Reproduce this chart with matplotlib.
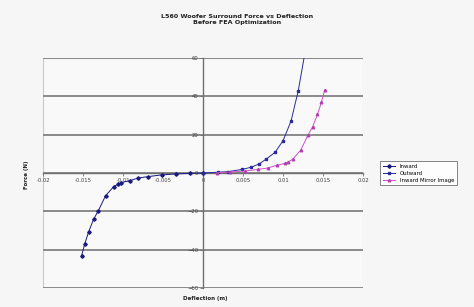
import matplotlib
matplotlib.use("Agg")
import matplotlib.pyplot as plt
from matplotlib.patches import Rectangle

# Data
inward_x = [-0.0152, -0.0148, -0.0143, -0.0137, -0.0131, -0.0122, -0.0112, -0.0106,
            -0.0103, -0.0092, -0.0081, -0.0069, -0.0052, -0.0034, -0.0017, 0.0]
inward_y = [-43.3, -37.0, -30.6, -24.2, -19.7, -11.9, -7.2, -5.7,
            -5.1, -4.0, -2.6, -1.9, -1.0, -0.5, -0.2, 0.0]

outward_x = [0.0, 0.0019, 0.0031, 0.0049, 0.0060, 0.0070, 0.0079, 0.0090,
             0.0100, 0.0110, 0.0119, 0.0127]
outward_y = [0.0, 0.4, 0.7, 1.9, 3.0, 4.7, 7.3, 10.8, 16.9, 27.2, 43.0, 62.0]

mirror_x = [0.0017, 0.0034, 0.0052, 0.0069, 0.0081, 0.0092, 0.0103, 0.0106,
            0.0112, 0.0122, 0.0131, 0.0137, 0.0143, 0.0148, 0.0152]
mirror_y = [0.2, 0.5, 1.0, 1.9, 2.6, 4.0, 5.1, 5.7,
            7.2, 11.9, 19.7, 24.2, 30.6, 37.0, 43.3]

x_ticks = [-0.02, -0.015, -0.01, -0.005, 0, 0.005, 0.01, 0.015, 0.02]
x_ticklabels = ["-0.02", "-0.015", "-0.01", "-0.005", "0", "0.005", "0.01", "0.015", "0.02"]
y_ticks = [-60, -40, -20, 0, 20, 40, 60]

title = "L560 Woofer Surround Force vs Deflection\nBefore FEA Optimization"

fig = plt.figure(figsize=(4.74, 3.07), dpi=100)
fig.patch.set_facecolor("#f6f6f6")
ax = fig.add_axes([0.091, 0.062, 0.675, 0.749])
ax.set_facecolor("#f9f9f9")

ax.set_xlim(-0.02, 0.02)
ax.set_ylim(-60, 60)

for y in y_ticks:
    ax.axhline(y, color="#8a8a8a", lw=1.4, zorder=1)

ax.plot(inward_x, inward_y, color="#1a1a80", lw=0.7, marker="D", ms=1.8,
        label="Inward", zorder=3)
ax.plot(outward_x, outward_y, color="#2a2a9a", lw=0.7, marker="s", ms=1.8,
        label="Outward", zorder=3)
ax.plot(mirror_x, mirror_y, color="#d050c8", lw=0.7, marker="^", ms=1.8,
        mfc="#b040b0", mec="#b040b0", label="Inward Mirror Image", zorder=3)

ax.spines["left"].set_position(("data", 0))
ax.spines["bottom"].set_position(("data", 0))
ax.spines["left"].set_color("#707070")
ax.spines["bottom"].set_color("#707070")
ax.spines["left"].set_linewidth(1.0)
ax.spines["bottom"].set_linewidth(1.0)
ax.spines["top"].set_visible(False)
ax.spines["right"].set_visible(False)
ax.add_patch(Rectangle((0, 0), 1, 1, transform=ax.transAxes, fill=False,
                       edgecolor="#c8c8c8", lw=0.8, zorder=0.5))

ax.set_xticks(x_ticks)
ax.set_xticklabels(x_ticklabels)
ax.set_yticks(y_ticks)
ax.tick_params(axis="both", labelsize=3.8, length=2, width=0.6, color="#707070",
               labelcolor="#404040", pad=1.5)

fig.text(0.5, 0.955, title, ha="center", va="top", fontsize=4.6,
         fontweight="bold", color="#202020", linespacing=1.3)
fig.text(0.055, 0.43, "Force (N)", rotation=90, ha="center", va="center",
         fontsize=4.0, fontweight="bold", color="#202020")
fig.text(0.432, 0.027, "Deflection (m)", ha="center", va="center",
         fontsize=4.0, fontweight="bold", color="#202020")

leg = fig.legend(loc="upper left", bbox_to_anchor=(0.797, 0.483), fontsize=3.9,
                 frameon=True, fancybox=False, edgecolor="#505050",
                 handlelength=2.3, borderpad=0.45, labelspacing=0.35)
leg.get_frame().set_linewidth(0.6)
leg.get_frame().set_facecolor("white")

fig.savefig("out.png", dpi=100, facecolor=fig.get_facecolor())
